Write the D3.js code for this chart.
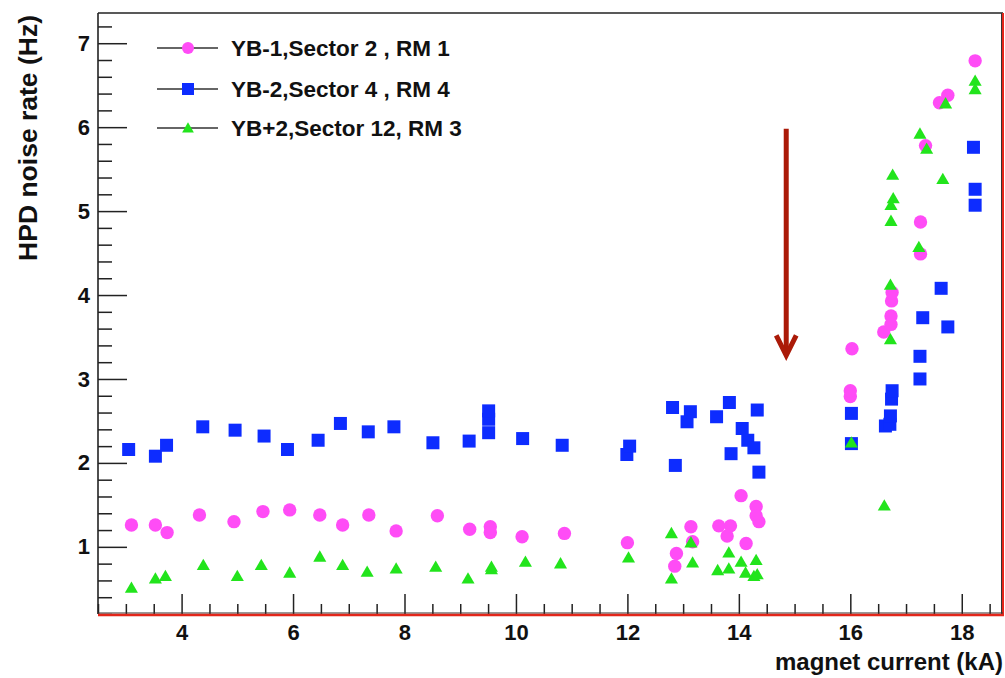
<!DOCTYPE html>
<html>
<head>
<meta charset="utf-8">
<script src="https://cdn.jsdelivr.net/npm/d3@7"></script>
<style>
  html, body { margin: 0; padding: 0; background: #ffffff; }
  svg { display: block; }
  text { font-family: "Liberation Sans", Arial, Helvetica, sans-serif; font-weight: bold; fill: #111; }
</style>
</head>
<body>
<svg id="chart" width="1005" height="678"></svg>
<script>
// HPD noise rate versus magnet current, three readout modules

const seriesNames = ["YB-1,Sector 2 , RM 1", "YB-2,Sector 4 , RM 4", "YB+2,Sector 12, RM 3"];

// YB-1, Sector 2, RM 1
const rm1Current = [3.10, 3.53, 3.74, 4.32, 4.94, 5.46, 5.94, 6.48, 6.89, 7.36, 7.85, 8.59, 9.17, 9.54, 9.54,
  10.11, 10.87, 12.00, 12.85, 12.88, 13.14, 13.17, 13.64, 13.79, 13.85, 14.04, 14.13, 14.31, 14.31, 14.36,
  16.00, 16.00, 16.03, 16.60, 16.73, 16.73, 16.74, 16.75, 17.26, 17.26, 17.35, 17.60, 17.75, 18.24];
const rm1Rate = [1.26, 1.26, 1.17, 1.38, 1.30, 1.42, 1.44, 1.38, 1.26, 1.38, 1.19, 1.37, 1.21, 1.24, 1.17,
  1.12, 1.16, 1.05, 0.77, 0.92, 1.24, 1.06, 1.25, 1.13, 1.25, 1.61, 1.04, 1.48, 1.37, 1.30,
  2.79, 2.86, 3.36, 3.56, 3.65, 3.75, 3.93, 4.03, 4.49, 4.87, 5.78, 6.29, 6.38, 6.79];

// YB-2, Sector 4, RM 4
const rm4Current = [3.05, 3.53, 3.73, 4.38, 4.96, 5.48, 5.90, 6.45, 6.85, 7.35, 7.81, 8.51, 9.16, 9.51, 9.51, 9.51,
  10.12, 10.83, 11.99, 12.04, 12.81, 12.86, 13.07, 13.13, 13.60, 13.83, 13.86, 14.06, 14.16, 14.27, 14.33, 14.36,
  16.02, 16.02, 16.63, 16.71, 16.72, 16.74, 16.75, 17.25, 17.25, 17.30, 17.63, 17.75, 18.21, 18.24, 18.24];
const rm4Rate = [2.16, 2.08, 2.21, 2.43, 2.39, 2.32, 2.16, 2.27, 2.47, 2.37, 2.43, 2.24, 2.26, 2.36, 2.52, 2.62,
  2.29, 2.21, 2.10, 2.20, 2.66, 1.97, 2.49, 2.61, 2.55, 2.72, 2.11, 2.41, 2.27, 2.18, 2.63, 1.89,
  2.23, 2.59, 2.44, 2.46, 2.56, 2.76, 2.86, 3.00, 3.27, 3.73, 4.08, 3.62, 5.76, 5.26, 5.07];

// YB+2, Sector 12, RM 3
const rm3Current = [3.10, 3.53, 3.71, 4.39, 5.00, 5.43, 5.94, 6.48, 6.89, 7.33, 7.85, 8.56, 9.14, 9.56, 9.56,
  10.17, 10.80, 12.02, 12.79, 12.79, 13.14, 13.17, 13.62, 13.82, 13.82, 14.04, 14.12, 14.27, 14.31, 14.33,
  16.02, 16.61, 16.72, 16.72, 16.73, 16.73, 16.77, 16.76, 17.23, 17.25, 17.37, 17.66, 17.71, 18.24, 18.24];
const rm3Rate = [0.51, 0.62, 0.65, 0.78, 0.65, 0.78, 0.69, 0.88, 0.78, 0.70, 0.74, 0.76, 0.62, 0.73, 0.76,
  0.82, 0.80, 0.87, 0.62, 1.16, 1.05, 0.81, 0.72, 0.74, 0.93, 0.82, 0.69, 0.65, 0.84, 0.67,
  2.24, 1.49, 3.47, 4.12, 4.88, 5.07, 5.15, 5.43, 4.57, 5.92, 5.74, 5.38, 6.28, 6.55, 6.45];

// Axis ticks
const xMajorTicks = [4, 6, 8, 10, 12, 14, 16, 18];
const yMajorTicks = [1, 2, 3, 4, 5, 6, 7];
const xTitle = "magnet current (kA)";
const yTitle = "HPD noise rate (Hz)";

// Marker the arrow points at (field current where the noise rises)
const arrowCurrent = 14.85;
const arrowFrom = 5.98;
const arrowTo = 3.28;

const colors = { rm1: "#ff4cf6", rm4: "#0d2cff", rm3: "#22e41c" };

const svg = d3.select("#chart");
const frame = { left: 98, right: 1003, top: 13, bottom: 614 };

const x = d3.scaleLinear().domain([2.5, 18.74]).range([frame.left, frame.right]);
const y = d3.scaleLinear().domain([0.2, 7.36]).range([frame.bottom, frame.top]);

const xMinor = d3.range(2.5, 18.75, 0.5).filter(v => !xMajorTicks.includes(v));
const yMinor = d3.range(0.2, 7.36, 0.2).map(v => Math.round(v * 10) / 10).filter(v => !yMajorTicks.includes(v));

// Y axis: ticks pointing into the frame
const yAxisG = svg.append("g").attr("transform", `translate(${frame.left},0)`);
yAxisG.call(d3.axisLeft(y).tickValues(yMajorTicks).tickFormat(d3.format("d")).tickSizeInner(-29).tickSizeOuter(0).tickPadding(8));
yAxisG.append("g").call(d3.axisLeft(y).tickValues(yMinor).tickFormat("").tickSizeInner(-14).tickSizeOuter(0));
yAxisG.selectAll(".domain").remove();
yAxisG.selectAll("line").attr("stroke", "#222").attr("stroke-width", 1.5);
yAxisG.selectAll("text").style("font-size", "22px").style("font-family", "'Liberation Sans', Arial, sans-serif").style("font-weight", "bold").attr("fill", "#111");

// X axis
const xAxisG = svg.append("g").attr("transform", `translate(0,${frame.bottom})`);
xAxisG.call(d3.axisBottom(x).tickValues(xMajorTicks).tickFormat(d3.format("d")).tickSizeInner(-20).tickSizeOuter(0).tickPadding(10));
xAxisG.append("g").call(d3.axisBottom(x).tickValues(xMinor).tickFormat("").tickSizeInner(-10).tickSizeOuter(0));
xAxisG.selectAll(".domain").remove();
xAxisG.selectAll("line").attr("stroke", "#222").attr("stroke-width", 1.5);
xAxisG.selectAll("text").style("font-size", "22px").style("font-family", "'Liberation Sans', Arial, sans-serif").style("font-weight", "bold").attr("fill", "#111");

// Frame
svg.append("line").attr("x1", frame.left).attr("x2", frame.right).attr("y1", frame.top).attr("y2", frame.top)
  .attr("stroke", "#222").attr("stroke-width", 1.6);
svg.append("line").attr("x1", frame.left).attr("x2", frame.left).attr("y1", frame.top).attr("y2", frame.bottom)
  .attr("stroke", "#222").attr("stroke-width", 1.6);
svg.append("line").attr("x1", frame.right - 1.5).attr("x2", frame.right - 1.5).attr("y1", frame.top).attr("y2", frame.bottom)
  .attr("stroke", "#333").attr("stroke-width", 1);
svg.append("line").attr("x1", frame.right).attr("x2", frame.right).attr("y1", frame.top).attr("y2", frame.bottom + 1)
  .attr("stroke", "#e3261a").attr("stroke-width", 2);
svg.append("line").attr("x1", frame.left).attr("x2", frame.right).attr("y1", frame.bottom - 1).attr("y2", frame.bottom - 1)
  .attr("stroke", "#333").attr("stroke-width", 1.2);
svg.append("line").attr("x1", frame.left).attr("x2", frame.right + 1).attr("y1", frame.bottom + 1).attr("y2", frame.bottom + 1)
  .attr("stroke", "#e3261a").attr("stroke-width", 2.5);

// Axis titles
svg.append("text").attr("x", 1003).attr("y", 670).attr("text-anchor", "end")
  .style("font-size", "24px").text(xTitle);
svg.append("text").attr("transform", "translate(37,15) rotate(-90)").attr("text-anchor", "end")
  .style("font-size", "26.5px").text(yTitle);

// Markers
const circleSym = d3.symbol().type(d3.symbolCircle).size(Math.PI * 6.7 * 6.7);
const squareSym = d3.symbol().type(d3.symbolSquare).size(13 * 13);
const triSym = d3.symbol().type(d3.symbolTriangle).size(74);

const plot = svg.append("g");

function drawSeries(xs, ys, sym, color, dy) {
  plot.append("g").selectAll("path")
    .data(xs.map((v, i) => [v, ys[i]]))
    .join("path")
    .attr("d", sym)
    .attr("transform", d => `translate(${x(d[0])},${y(d[1]) + dy})`)
    .attr("fill", color);
}
drawSeries(rm4Current, rm4Rate, squareSym, colors.rm4, 0);
drawSeries(rm1Current, rm1Rate, circleSym, colors.rm1, 0);
drawSeries(rm3Current, rm3Rate, triSym, colors.rm3, 1);

// Arrow
const ax = x(arrowCurrent);
svg.append("line").attr("x1", ax).attr("x2", ax).attr("y1", y(arrowFrom)).attr("y2", y(arrowTo) - 2)
  .attr("stroke", "#ab1a08").attr("stroke-width", 5);
svg.append("path")
  .attr("d", `M${ax - 10},${y(arrowTo) - 20} L${ax},${y(arrowTo)} L${ax + 10},${y(arrowTo) - 20}`)
  .attr("fill", "none").attr("stroke", "#ab1a08").attr("stroke-width", 5).attr("stroke-linejoin", "miter");

// Legend
const legend = svg.append("g");
const legendSyms = [
  { sym: d3.symbol().type(d3.symbolCircle).size(Math.PI * 6 * 6), color: colors.rm1, dy: 0 },
  { sym: d3.symbol().type(d3.symbolSquare).size(12 * 12), color: colors.rm4, dy: 0 },
  { sym: d3.symbol().type(d3.symbolTriangle).size(60), color: colors.rm3, dy: 1 }
];
const legendY = [48, 89, 128];
seriesNames.forEach((name, i) => {
  const g = legend.append("g").attr("transform", `translate(0,${legendY[i]})`);
  g.append("line").attr("x1", 157).attr("x2", 218).attr("y1", 0).attr("y2", 0).attr("stroke", "#333").attr("stroke-width", 1.5);
  g.append("path").attr("d", legendSyms[i].sym).attr("transform", `translate(188,${legendSyms[i].dy})`).attr("fill", legendSyms[i].color);
  g.append("text").attr("x", 231).attr("y", 8).style("font-size", "22.5px").text(name);
});
</script>
</body>
</html>
